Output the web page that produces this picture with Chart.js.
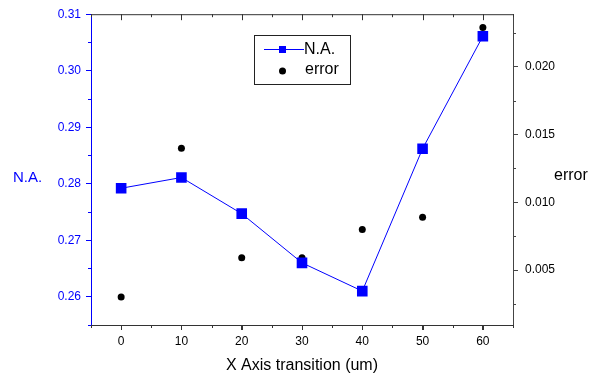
<!DOCTYPE html>
<html>
<head>
<meta charset="utf-8">
<script src="https://cdn.jsdelivr.net/npm/chart.js@4/dist/chart.umd.min.js"></script>
<style>
html, body { margin: 0; padding: 0; background: #fff; }
#wrap { width: 591px; height: 374px; position: relative; }
</style>
</head>
<body>
<div id="wrap"><canvas id="naChart"></canvas></div>
<script>
// values
const xValues = [0, 10, 20, 30, 40, 50, 60];
const naValues = [0.2792, 0.2811, 0.2747, 0.2660, 0.2610, 0.2862, 0.3061];
const errorValues = [0.0030, 0.0140, 0.0059, 0.0059, 0.0080, 0.0089, 0.0229];

const xTicks = [0, 10, 20, 30, 40, 50, 60];
const xMinorTicks = [-5, 5, 15, 25, 35, 45, 55, 65];
const naTicks = [0.26, 0.27, 0.28, 0.29, 0.30, 0.31];
const naMinorTicks = [0.255, 0.265, 0.275, 0.285, 0.295, 0.305];
const errorTicks = [0.005, 0.010, 0.015, 0.020];
const errorMinorTicks = [0.0025, 0.0075, 0.0125, 0.0175, 0.0225];

const FONT = '"Liberation Sans", Arial, sans-serif';
const BLUE = '#0000ff';
const AXIS_GRAY = '#333333';

function line(ctx, x1, y1, x2, y2) {
    ctx.beginPath();
    ctx.moveTo(x1, y1);
    ctx.lineTo(x2, y2);
    ctx.stroke();
}

// minor ticks, mirrored top ticks, axis titles and legend
const extras = {
    id: 'extras',
    afterDraw(chart) {
        const { ctx, chartArea: a, scales } = chart;
        ctx.save();
        ctx.lineWidth = 1;

        // top frame line with inward ticks
        ctx.strokeStyle = AXIS_GRAY;
        line(ctx, a.left, a.top + 0.5, a.right, a.top + 0.5);
        xTicks.forEach(v => {
            const px = Math.round(scales.x.getPixelForValue(v)) + 0.5;
            line(ctx, px, a.top, px, a.top + 6);
            line(ctx, px, a.bottom, px, a.bottom + 5);
        });
        xMinorTicks.forEach(v => {
            const px = Math.round(scales.x.getPixelForValue(v)) + 0.5;
            line(ctx, px, a.top, px, a.top + 3);
            line(ctx, px, a.bottom, px, a.bottom + 3);
        });

        ctx.strokeStyle = BLUE;
        naMinorTicks.forEach(v => {
            const py = Math.round(scales.y.getPixelForValue(v)) + 0.5;
            line(ctx, a.left - 3, py, a.left, py);
        });
        ctx.strokeStyle = '#444444';
        errorMinorTicks.forEach(v => {
            const py = Math.round(scales.y1.getPixelForValue(v)) + 0.5;
            line(ctx, a.right, py, a.right + 3, py);
        });

        // axis titles
        ctx.textBaseline = 'middle';
        ctx.font = '15px ' + FONT;
        ctx.fillStyle = BLUE;
        ctx.textAlign = 'left';
        ctx.fillText('N.A.', 13, 178);
        ctx.font = '16px ' + FONT;
        ctx.fillStyle = '#000';
        ctx.fillText('error', 554, 176);
        ctx.textAlign = 'center';
        ctx.fillText('X Axis transition (um)', (a.left + a.right) / 2, 366);

        // legend
        const ds = chart.data.datasets;
        ctx.strokeStyle = '#222';
        ctx.strokeRect(254.5, 35.5, 96, 49);
        ctx.strokeStyle = BLUE;
        line(ctx, 264, 49.5, 304, 49.5);
        ctx.fillStyle = BLUE;
        ctx.fillRect(279, 46, 7, 7);
        ctx.fillStyle = '#000';
        ctx.beginPath();
        ctx.arc(282.5, 71, 3.5, 0, Math.PI * 2);
        ctx.fill();
        ctx.textAlign = 'left';
        ctx.font = '16px ' + FONT;
        ctx.fillText(ds[0].label, 304, 50);
        ctx.fillText(ds[1].label, 305, 70);

        ctx.restore();
    }
};

new Chart(document.getElementById('naChart'), {
    type: 'scatter',
    data: {
        datasets: [
            {
                label: 'N.A.',
                data: xValues.map((x, i) => ({ x: x, y: naValues[i] })),
                yAxisID: 'y',
                showLine: true,
                borderColor: BLUE,
                borderWidth: 1,
                backgroundColor: BLUE,
                pointStyle: 'rect',
                pointRadius: 7.5,
                pointBorderWidth: 0,
                pointBackgroundColor: BLUE
            },
            {
                label: 'error',
                data: xValues.map((x, i) => ({ x: x, y: errorValues[i] })),
                yAxisID: 'y1',
                showLine: false,
                backgroundColor: '#000',
                borderColor: '#000',
                pointStyle: 'circle',
                pointRadius: 3.5,
                pointBorderWidth: 0
            }
        ]
    },
    options: {
        responsive: true,
        maintainAspectRatio: false,
        animation: false,
        layout: { padding: { top: 14, left: 0, right: 0, bottom: 0 } },
        plugins: {
            legend: { display: false },
            tooltip: { enabled: false }
        },
        scales: {
            x: {
                type: 'linear',
                position: 'bottom',
                min: -5,
                max: 65,
                afterBuildTicks: s => { s.ticks = xTicks.map(v => ({ value: v })); },
                afterFit: s => { s.height = 49; },
                border: { display: true, color: AXIS_GRAY, width: 1 },
                grid: { drawOnChartArea: false, drawTicks: true, tickLength: 5, color: AXIS_GRAY },
                ticks: { color: '#000', padding: 4, maxRotation: 0, font: { family: FONT, size: 12 } }
            },
            y: {
                type: 'linear',
                position: 'left',
                min: 0.255,
                max: 0.31,
                afterBuildTicks: s => { s.ticks = naTicks.map(v => ({ value: v })); },
                afterFit: s => { s.width = 91; },
                border: { display: true, color: BLUE, width: 1 },
                grid: { drawOnChartArea: false, drawTicks: true, tickLength: 5, color: BLUE },
                ticks: {
                    color: BLUE,
                    padding: 5,
                    font: { family: FONT, size: 12 },
                    callback: v => v.toFixed(2)
                }
            },
            y1: {
                type: 'linear',
                position: 'right',
                min: 0.00094,
                max: 0.02389,
                afterBuildTicks: s => { s.ticks = errorTicks.map(v => ({ value: v })); },
                afterFit: s => { s.width = 78; },
                border: { display: true, color: '#444444', width: 1 },
                grid: { drawOnChartArea: false, drawTicks: true, tickLength: 5, color: '#444444' },
                ticks: {
                    color: '#000',
                    padding: 7,
                    font: { family: FONT, size: 12 },
                    callback: v => v.toFixed(3)
                }
            }
        }
    },
    plugins: [extras]
});
</script>
</body>
</html>
